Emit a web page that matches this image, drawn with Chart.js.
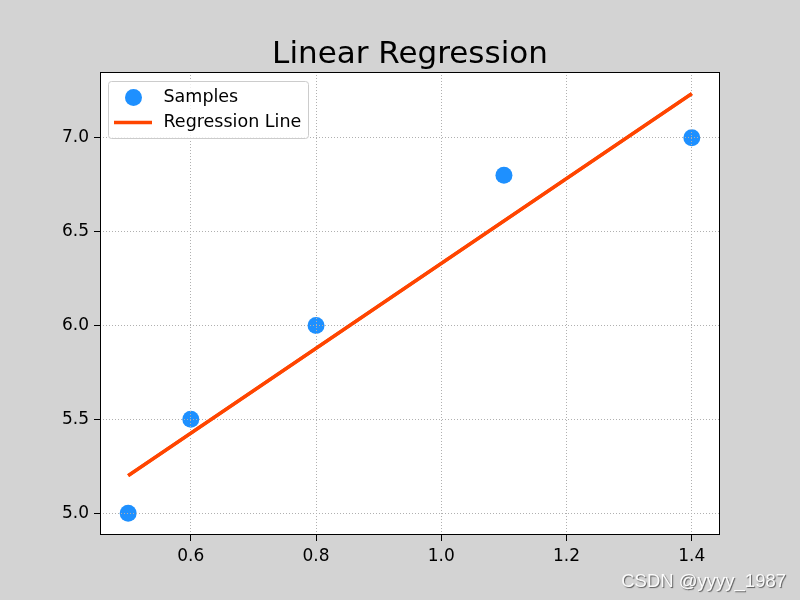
<!DOCTYPE html>
<html>
<head>
<meta charset="utf-8">
<script src="https://cdn.jsdelivr.net/npm/chart.js@4"></script>
<style>
  body { margin: 0; background: #d3d3d3; }
  canvas { display: block; }
</style>
</head>
<body>
<canvas id="grafico" width="800" height="600"></canvas>
<script>
const titulo = "Linear Regression";
const marcaDagua = "CSDN @yyyy_1987";

const xAmostras = [0.5, 0.6, 0.8, 1.1, 1.4];
const yAmostras = [5.0, 5.5, 6.0, 6.8, 7.0];

const xReta = [0.5, 1.4];
const yReta = [5.2, 7.235];

const xTicks = [0.6, 0.8, 1.0, 1.2, 1.4];
const yTicks = [5.0, 5.5, 6.0, 6.5, 7.0];

const nomes = ["Samples", "Regression Line"];
const corPontos = "#1e90ff";
const corReta = "#ff4500";

const fonte = "'DejaVu Sans', sans-serif";

// fundo da figura e area branca do grafico
const fundo = {
  id: "fundo",
  beforeDraw(chart) {
    const { ctx, chartArea: a } = chart;
    ctx.save();
    ctx.fillStyle = "#d3d3d3";
    ctx.fillRect(0, 0, chart.width, chart.height);
    ctx.fillStyle = "#ffffff";
    ctx.fillRect(a.left, a.top, a.right - a.left, a.bottom - a.top);
    ctx.restore();
  },
};

// reta por cima da grade, moldura, titulo, legenda e marca d'agua
const extras = {
  id: "extras",
  afterDraw(chart) {
    const { ctx, chartArea: a } = chart;
    ctx.save();

    chart.getDatasetMeta(1).controller.draw();

    ctx.strokeStyle = "#000";
    ctx.lineWidth = 1;
    ctx.strokeRect(Math.round(a.left) + 0.5, Math.round(a.top) + 0.5,
      Math.round(a.right - a.left) - 1, Math.round(a.bottom - a.top) - 1);

    ctx.fillStyle = "#000";
    ctx.font = "31px " + fonte;
    ctx.textAlign = "center";
    ctx.textBaseline = "alphabetic";
    ctx.fillText(titulo, (a.left + a.right) / 2, 63);

    // legenda
    const lx = a.left + 8.5, ly = a.top + 9.5, lw = 200, lh = 57, r = 3;
    ctx.beginPath();
    ctx.moveTo(lx + r, ly);
    ctx.arcTo(lx + lw, ly, lx + lw, ly + lh, r);
    ctx.arcTo(lx + lw, ly + lh, lx, ly + lh, r);
    ctx.arcTo(lx, ly + lh, lx, ly, r);
    ctx.arcTo(lx, ly, lx + lw, ly, r);
    ctx.closePath();
    ctx.fillStyle = "rgba(255,255,255,0.8)";
    ctx.fill();
    ctx.strokeStyle = "#cccccc";
    ctx.stroke();

    ctx.fillStyle = corPontos;
    ctx.beginPath();
    ctx.arc(a.left + 33.5, a.top + 25.5, 8.5, 0, Math.PI * 2);
    ctx.fill();

    ctx.strokeStyle = corReta;
    ctx.lineWidth = 3.5;
    ctx.beginPath();
    ctx.moveTo(a.left + 14, a.top + 50.5);
    ctx.lineTo(a.left + 52, a.top + 50.5);
    ctx.stroke();

    ctx.fillStyle = "#000";
    ctx.font = "17.5px " + fonte;
    ctx.textAlign = "left";
    ctx.textBaseline = "middle";
    ctx.fillText(nomes[0], a.left + 63.5, a.top + 25.5);
    ctx.fillText(nomes[1], a.left + 63.5, a.top + 50.5);

    // marca d'agua
    ctx.font = "18.5px 'Liberation Sans', Arial, sans-serif";
    ctx.textAlign = "right";
    ctx.textBaseline = "alphabetic";
    ctx.shadowColor = "rgba(70,70,70,0.9)";
    ctx.shadowOffsetX = 1;
    ctx.shadowOffsetY = 1;
    ctx.shadowBlur = 1;
    ctx.fillStyle = "rgba(255,255,255,0.95)";
    ctx.fillText(marcaDagua, 786, 587);

    ctx.restore();
  },
};

const estiloEixo = {
  grid: {
    color: "#b0b0b0",
    lineWidth: 1,
    tickColor: "#000",
    tickLength: 6,
    tickWidth: 1,
    z: 1,
  },
  border: { display: false, dash: [1, 2] },
  ticks: {
    color: "#000",
    font: { family: fonte, size: 17 },
    padding: 5,
    autoSkip: false,
    maxRotation: 0,
    callback: (v) => Number(v).toFixed(1),
  },
};

new Chart(document.getElementById("grafico"), {
  type: "scatter",
  data: {
    datasets: [
      {
        label: nomes[0],
        data: xAmostras.map((x, i) => ({ x: x, y: yAmostras[i] })),
        backgroundColor: corPontos,
        borderColor: corPontos,
        borderWidth: 0,
        pointRadius: 8.5,
      },
      {
        label: nomes[1],
        data: xReta.map((x, i) => ({ x: x, y: yReta[i] })),
        showLine: true,
        borderColor: corReta,
        borderWidth: 3.5,
        pointRadius: 0,
        fill: false,
      },
    ],
  },
  options: {
    responsive: false,
    animation: false,
    devicePixelRatio: 1,
    layout: { padding: { top: 72, right: 80, left: 0, bottom: 0 } },
    plugins: {
      legend: { display: false },
      tooltip: { enabled: false },
      title: { display: false },
    },
    scales: {
      x: {
        ...estiloEixo,
        type: "linear",
        min: 0.455,
        max: 1.445,
        afterBuildTicks: (s) => { s.ticks = xTicks.map((v) => ({ value: v })); },
        afterFit: (s) => { s.height = 65; },
      },
      y: {
        ...estiloEixo,
        type: "linear",
        min: 4.884,
        max: 7.35,
        afterBuildTicks: (s) => { s.ticks = yTicks.map((v) => ({ value: v })); },
        afterFit: (s) => { s.width = 100; },
      },
    },
  },
  plugins: [fundo, extras],
});
</script>
</body>
</html>
